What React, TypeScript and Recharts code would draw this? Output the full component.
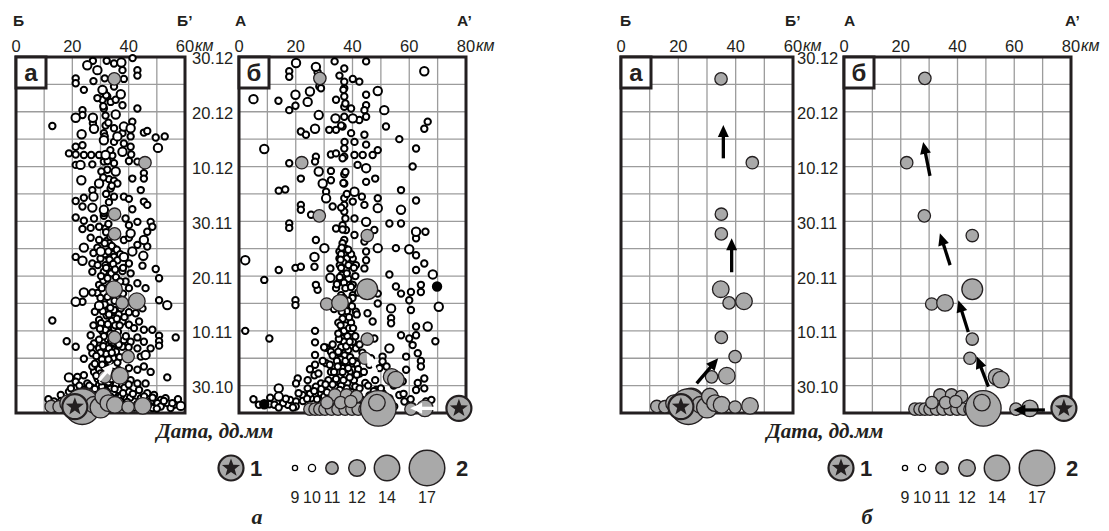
import React from 'react';
import { ScatterChart, Scatter, XAxis, YAxis, CartesianGrid, ReferenceArea, ReferenceLine } from 'recharts';

// ---- axes ----
const DAY_TICKS = [5, 15, 25, 35, 45, 55, 65];
const DAY_LABELS = ['30.10', '10.11', '20.11', '30.11', '10.12', '20.12', '30.12'];
const DAY_GRID = [0, 5, 10, 15, 20, 25, 30, 35, 40, 45, 50, 55, 60, 65];
const BB_TICKS = [0, 20, 40, 60];
const AA_TICKS = [0, 20, 40, 60, 80];
const BB_GRID = [0, 10, 20, 30, 40, 50, 60];
const AA_GRID = [0, 10, 20, 30, 40, 50, 60, 70, 80];
const LEGEND_CLASSES = [9, 10, 11, 12, 14, 17];

// ---- profile Б–Б' : [km, day since 25.10] ----
const bbC9 = [
  [27.3,64.3],[32.2,64.3],[34.8,63.8],[37.8,62.6],[41.4,64.8],[43.1,62.6],[43.1,61.6],[21.2,61.1],[21.2,60.2],[27.5,60.6],[31.5,61.1],[38.3,61.0],
  [24.1,59.0],[31.2,58.7],[32.4,57.8],[30.7,57.2],[33.6,56.8],[28.9,57.5],[34.8,59.6],[37.8,56.2],[35.4,57.2],[31.2,55.6],[23.6,55.3],[43.1,55.6],
  [23.6,54.4],[27.3,52.9],[31.8,54.3],[12.9,52.4],[31.8,52.5],[31.2,51.1],[34.8,52.0],[41.3,53.2],[37.8,51.1],[45.4,51.2],[46.6,51.5],[49.6,50.3],[52.8,50.5],[40.7,50.5],
  [21.2,48.6],[23.6,48.9],[18.8,47.4],[21.2,47.2],[24.1,47.1],[26.7,47.1],[29.5,47.1],[34.2,47.0],[34.8,49.5],[38.3,49.2],[40.7,48.6],[40.9,47.2],[40.1,46.0],[43.1,45.9],[21.2,45.3],[27.1,45.4],[31.2,45.9],[34.8,45.6],
  [32.4,44.4],[30.3,44.1],[33.0,42.7],[34.8,42.4],[41.3,42.8],[45.4,43.8],[45.4,42.8],[27.1,40.7],[33.6,41.0],[36.0,41.9],[44.3,40.7],
  [21.2,38.7],[24.1,39.3],[34.8,39.5],[38.3,39.5],[40.1,39.1],[45.4,38.6],[23.6,37.7],[41.3,37.2],[46.6,38.0],[21.2,35.7],[24.1,35.1],[27.7,35.5],[31.2,36.0],[38.9,35.5],
  [23.6,33.6],[26.5,33.8],[29.5,34.0],[31.8,33.7],[40.1,34.3],[43.1,34.9],[47.8,34.9],[48.4,34.0],[46.6,33.1],[26.5,32.0],[29.5,31.6],[32.2,31.4],[38.3,31.6],[40.1,32.0],[28.9,30.2],[33.0,31.0],[34.8,30.1],[43.1,30.7],[46.6,30.4],
  [21.2,28.5],[27.5,29.2],[32.4,28.8],[34.8,28.5],[27.1,27.3],[31.8,27.0],[33.6,27.6],[36.0,27.9],[40.1,27.3],[44.9,26.9],[49.6,26.3],[27.1,25.8],[31.2,25.8],[34.8,26.1],[37.8,25.9],[40.7,25.5],[50.8,24.6],
  [29.5,23.4],[31.8,23.7],[28.9,21.9],[27.1,22.0],[23.6,20.3],[38.9,24.0],[40.1,22.8],[43.1,23.7],[46.0,22.8],[33.6,21.7],[31.2,20.3],[50.8,20.6],[44.9,19.1],
  [12.9,16.9],[31.8,18.5],[34.8,18.8],[37.2,19.1],[40.1,18.4],[42.5,18.2],[34.8,17.3],[37.8,16.7],[29.5,17.0],[40.1,16.1],[43.7,16.7],[33.0,15.8],[26.5,14.2],[30.7,14.9],[34.8,15.5],[45.4,15.2],[48.4,15.2],[41.9,15.5],
  [18.0,13.1],[27.7,12.7],[31.2,13.0],[38.3,13.3],[40.7,13.0],[43.1,13.8],[45.4,13.0],[50.8,14.1],[50.8,13.1],[50.8,12.3],[56.7,13.8],[21.2,12.1],[29.5,11.8],[34.8,11.5],[37.8,12.1],[43.1,11.8],[47.8,11.8],[27.1,10.9],[32.4,10.6],[24.1,9.9],[44.3,10.3],[31.2,9.7],
  [21.8,6.6],[24.1,6.9],[27.7,7.5],[27.1,8.5],[40.1,8.2],[43.1,7.9],[45.4,8.5],[47.8,7.5],[53.7,6.5],[40.7,6.0],[43.1,5.4],[29.5,5.1],[25.3,5.4],[21.2,5.7],[32.4,5.4],[46.0,5.4],
  [13.5,2.1],[15.9,3.3],[18.8,3.9],[21.2,4.5],[24.1,4.2],[27.7,3.9],[30.7,4.2],[33.6,3.9],[36.6,4.2],[40.1,3.9],[43.7,4.2],[46.6,3.6],[49.0,3.3],[51.4,2.4],[53.7,1.8],[56.1,1.5],[53.1,2.7],[50.2,1.8],[47.8,2.1],[17.0,1.2],[20.0,2.7],[26.5,2.4],[30.1,2.7],[33.0,2.1],[36.0,3.0],[38.3,1.5],[41.9,2.1],[44.3,2.7],[26.5,0.9],[31.2,1.2],[34.8,0.9],[37.2,3.0],[51.4,1.2],[54.9,0.9],[48.4,0.9],
];
const bbDense = [
  [31.5,29.0],[33.2,28.0],[34.5,27.2],[32.0,26.5],[33.8,25.5],[35.5,24.8],[31.0,24.2],[33.0,23.0],[34.2,22.2],[32.5,21.2],[35.8,21.0],[31.5,19.8],[33.5,19.2],[36.5,18.0],[32.2,17.8],[34.0,16.8],[35.2,16.0],[31.8,15.2],[33.5,14.5],[36.2,14.8],[32.5,13.5],[34.0,12.8],[31.0,12.2],[33.0,11.8],[35.5,11.2],[32.0,10.8],[34.5,10.0],[30.5,9.8],[33.5,9.2],[35.0,8.6],[31.5,8.4],[29.5,8.0],[33.0,7.6],[34.8,6.8],[31.8,6.4],[29.0,6.2],[32.8,5.6],[35.5,5.2],[30.5,4.8],[27.0,4.6],[33.5,4.4],[38.5,4.6],[25.5,3.6],[28.5,3.2],[31.0,3.4],[34.5,3.6],[37.0,2.2],[40.5,2.8],[23.0,2.6],[26.0,1.6],[29.0,2.0],[32.0,1.0],[35.0,2.6],[38.0,1.2],[42.0,1.0],[44.8,2.0],[47.0,1.5],[50.0,0.8],[52.5,2.2],[55.5,1.8],[19.0,1.2],[16.0,2.2],[22.0,3.8],
  [32.0,33.0],[33.5,32.2],[31.5,31.0],[34.0,30.5],[32.8,34.5],[31.2,36.5],[33.0,38.5],[32.0,40.0],[34.0,41.5],[31.0,43.0],[32.5,46.0],[33.5,48.0],[31.5,50.5],[32.8,53.0],[31.0,56.0],[32.0,58.0],
  [30.0,28.2],[32.8,29.5],[35.8,29.8],[29.0,27.0],[35.2,26.2],[30.2,25.0],[32.5,24.6],[36.5,23.8],[30.5,22.8],[35.0,20.5],[30.0,21.0],[36.8,19.8],[30.8,18.6],[33.0,18.0],[35.8,17.2],[30.2,16.4],[32.6,16.2],[36.8,16.0],[29.8,15.4],[35.5,14.0],[31.2,14.0],[29.5,13.4],[33.8,13.2],[36.5,12.5],[30.0,11.0],[34.0,11.0],[36.8,10.2],[28.5,10.4],[32.8,9.8],[36.0,9.2],[28.0,9.0],[30.6,8.8],[32.2,8.0],[36.5,7.8],[30.0,7.2],[28.5,6.8],[33.8,6.2],[37.5,6.5],[30.2,5.8],[35.0,4.4],[26.0,5.0],[28.0,4.4],[32.0,4.0],[38.0,3.6],[40.0,5.2],[22.5,5.0],[19.5,4.5],[24.0,3.0],[27.0,3.0],[30.5,1.8],[33.5,3.0],[36.5,1.2],[39.5,2.0],[41.5,3.5],[43.0,1.6],[45.5,3.0],[48.5,2.8],[14.5,1.0],[11.5,2.5],[57.5,2.5],[40.0,12.0],[39.0,14.0],[38.5,17.5],[38.0,21.8],[37.0,24.0],[28.0,18.5],[27.5,16.0],[26.5,12.0],[38.0,26.5],[37.0,29.0],
];
const bbC10 = [
  [25.3,63.5],[28.9,62.6],[37.4,64.0],[30.7,59.0],[37.2,58.2],[21.2,53.9],[27.3,53.9],[35.4,54.5],[27.7,51.9],[36.0,50.5],[38.3,52.3],[40.7,52.0],[23.3,50.9],[31.8,47.1],[31.2,49.8],[37.8,47.7],[50.4,48.4],[22.9,45.3],[35.4,44.1],[23.2,42.5],[29.5,41.9],[27.5,39.5],[27.1,37.5],[31.2,37.1],[40.7,32.8],[45.4,31.6],[24.1,30.2],[23.6,27.8],[30.1,29.5],[38.3,28.5],[41.3,29.5],[45.2,28.7],[24.1,22.0],[21.2,20.3],[29.5,19.6],[53.7,19.7],[46.0,10.6],[18.8,6.5],[58.5,1.3],
];
// [km, day, energy class]
const bbLarge = [
  [34.9,61.0,11],[45.8,45.7,11],[35.0,36.3,11],[35.0,32.7,11],[34.8,22.6,12],[37.7,20.1,11],[42.9,20.4,12],[35.0,13.8,11],[39.8,10.3,11],[36.9,6.8,12],[31.6,6.6,11],
  [12.5,1.2,11],[15.3,1.15,11],[18.5,1.8,12],[24.5,2.2,14],[23.5,1.15,17],[27.6,1.5,12],[30.0,1.0,13],[31.0,3.0,12],[32.8,1.8,12],[35.1,1.5,12],[39.8,1.1,11],[45.0,1.3,12],
];
const bbStar = [[20.9, 1.15]];

// ---- profile А–А' ----
const aaC9 = [
  [17.7,62.4],[17.7,61.4],[27.7,62.2],[33.7,64.2],[37.1,62.9],[35.4,61.6],[40.1,61.0],[42.4,60.5],[44.8,64.2],[37.1,60.5],[28.3,59.6],
  [13.9,57.0],[28.9,59.3],[17.7,55.3],[19.9,56.1],[37.1,59.3],[37.1,57.8],[37.1,55.9],[34.2,57.2],[44.8,58.1],[44.8,56.2],[44.2,55.3],[39.5,55.6],
  [37.1,54.1],[44.8,54.1],[42.4,53.5],[21.8,51.4],[23.6,50.8],[31.8,51.7],[34.2,51.7],[36.5,52.3],[39.5,51.1],[44.2,50.8],[51.8,52.3],[66.5,53.2],[65.3,51.9],[56.5,50.0],
  [27.1,46.8],[26.8,45.9],[17.7,45.6],[32.4,47.2],[34.2,47.4],[37.1,46.8],[37.1,48.3],[40.7,49.5],[40.7,47.1],[43.6,47.1],[47.1,47.1],[48.9,48.0],[44.8,49.0],[62.4,48.3],[61.2,45.0],[41.8,45.3],
  [32.4,44.2],[32.4,42.5],[37.1,43.6],[37.1,41.9],[21.8,42.8],[44.8,42.2],[48.0,42.8],[14.0,40.6],[16.3,40.8],[30.7,40.4],[57.1,40.7],[62.4,38.8],
  [21.8,38.0],[21.8,37.1],[33.0,37.7],[37.1,39.2],[37.1,38.0],[37.1,36.8],[40.1,38.6],[43.3,39.5],[44.2,38.0],[48.9,39.2],[25.4,36.2],[40.7,35.5],
  [17.7,34.6],[17.7,33.8],[34.2,33.7],[36.5,34.3],[37.7,33.4],[47.7,33.4],[53.0,34.6],[57.1,34.6],[62.4,31.9],[65.7,33.1],[37.1,31.6],[40.7,32.5],[44.2,31.3],[27.1,31.6],
  [35.4,29.5],[35.4,28.2],[37.1,28.8],[37.1,27.3],[37.1,26.1],[40.1,28.2],[41.2,27.0],[44.8,27.9],[44.8,29.5],[55.3,30.1],[62.4,28.8],[14.0,26.1],[19.9,26.5],[21.8,26.7],[26.6,26.7],[32.2,26.4],[44.2,26.4],[53.0,25.3],[62.4,26.1],[65.3,27.3],
  [8.9,24.3],[35.4,24.0],[37.1,24.9],[40.1,23.4],[27.7,22.5],[27.1,23.4],[34.2,22.8],[40.1,21.5],[48.9,21.8],[55.3,23.1],[57.1,21.8],[60.6,22.1],[64.1,22.1],[64.1,23.4],[19.9,20.6],[19.9,19.7],[48.9,20.0],[60.0,20.6],
  [36.5,19.1],[37.7,17.9],[41.2,18.5],[45.3,18.2],[47.1,16.7],[53.6,17.3],[53.6,16.4],[60.6,18.8],[62.4,15.8],[2.2,15.0],[26.8,15.0],[36.5,15.2],[39.5,14.9],
  [10.7,13.6],[26.8,12.9],[30.7,11.9],[32.4,11.2],[36.5,13.6],[36.5,12.1],[40.1,13.0],[41.2,11.8],[47.7,13.6],[57.1,14.2],[60.0,13.6],[62.4,14.2],[61.2,12.4],[69.2,13.1],[26.8,10.6],[35.4,10.9],[50.6,10.3],[58.9,10.3],[63.0,10.9],
  [20.7,6.3],[24.2,6.0],[26.8,8.8],[30.7,9.1],[32.4,7.5],[26.6,6.9],[36.5,8.5],[37.7,6.9],[40.1,7.9],[41.2,9.4],[49.5,8.2],[50.6,9.4],[64.1,9.5],[64.1,8.5],[65.3,6.3],[58.9,7.9],[57.7,5.8],[20.1,5.4],[28.9,5.4],[33.6,5.4],
  [5.1,2.5],[10.7,1.6],[17.2,1.5],[20.1,2.1],[22.4,3.3],[25.4,2.7],[28.9,3.6],[30.7,2.1],[34.2,4.2],[37.7,3.3],[41.2,3.9],[48.3,4.2],[50.6,3.6],[53.0,2.7],[56.5,3.3],[58.3,2.1],[62.4,4.2],[65.3,4.5],[65.9,2.1],[67.8,2.4],[61.2,1.2],[54.7,1.2],[24.2,4.5],[27.1,4.8],
];
const aaDense = [
  [36.5,31.0],[37.5,30.0],[36.0,29.0],[38.0,28.2],[36.8,27.5],[37.8,26.2],[36.2,25.2],[38.5,24.5],[37.0,23.8],[36.0,21.5],[37.2,19.5],[38.0,18.6],[36.5,17.2],[37.5,16.0],[36.2,14.8],[38.2,14.0],[37.0,13.0],[36.0,12.0],[38.5,11.5],[37.2,10.5],[35.8,9.8],[38.0,9.0],[36.5,8.2],[39.0,7.5],[37.5,7.0],[35.5,6.5],[40.5,6.0],[38.2,5.5],[36.0,5.0],[34.0,4.6],[41.0,4.8],[39.5,3.8],[37.0,3.5],[35.0,3.0],[32.5,3.4],[30.0,3.0],[27.5,2.5],[25.0,3.5],[22.5,2.2],[20.0,1.2],[18.0,2.4],[15.5,1.8],[12.5,1.5],[43.0,2.5],[46.0,3.2],[44.5,5.5],[42.5,7.2],[41.5,9.0],[43.5,11.0],[42.0,8.0],[33.5,7.5],[31.5,6.0],[34.5,9.5],[33.0,12.5],[39.5,16.5],[41.0,14.0],[35.0,16.5],[33.5,19.0],[40.0,21.0],[34.5,23.5],[41.0,25.0],[35.5,27.0],[39.5,29.0],
  [36.5,33.5],[37.5,35.5],[36.0,37.5],[38.0,40.0],[36.8,42.0],[37.5,44.0],[36.5,46.5],[37.2,49.5],[36.0,52.5],[37.5,56.5],[36.8,59.0],[52.0,8.5],[54.5,5.0],[58.0,3.5],[60.5,2.5],[63.0,5.5],[48.0,6.0],[50.0,4.5],[46.0,8.8],[28.0,7.2],[29.5,9.5],[30.0,12.0],[25.0,8.0],
  [36.2,30.2],[38.5,29.8],[35.8,28.0],[38.6,27.0],[36.0,26.5],[38.0,25.5],[35.5,24.8],[37.5,22.8],[36.8,21.0],[38.5,20.5],[35.5,19.8],[36.2,18.5],[38.8,17.5],[35.8,16.0],[37.0,15.0],[38.8,15.5],[35.2,13.5],[37.8,12.2],[39.0,13.0],[35.0,11.2],[37.5,9.5],[39.2,10.2],[34.8,8.5],[36.5,7.5],[38.5,8.2],[40.0,9.5],[34.2,6.2],[36.8,6.0],[39.0,6.5],[41.5,7.0],[33.0,5.2],[35.5,4.2],[38.0,4.5],[40.5,3.2],[42.5,4.5],[36.0,2.2],[33.5,2.0],[31.0,3.8],[29.0,4.4],[26.5,4.0],[24.0,2.6],[21.0,3.6],[19.0,1.0],[16.5,2.6],[14.0,1.0],[11.0,2.8],[7.0,1.5],[44.0,7.5],[45.5,5.0],[47.5,4.0],[49.0,2.8],[51.5,2.2],[46.5,10.0],[42.5,12.5],[40.2,15.5],[41.5,18.0],[39.8,19.5],[42.0,22.0],[39.5,23.0],[40.5,26.5],[33.0,10.5],[32.0,8.8],[30.5,5.2],[35.0,14.5],
];
const aaC10 = [
  [20.1,63.9],[27.1,63.2],[65.3,62.4],[5.1,57.3],[19.9,58.1],[25.0,58.7],[24.2,56.8],[48.9,58.8],[51.2,55.3],[28.1,54.4],[34.0,53.8],[40.1,53.8],[26.8,51.9],[8.9,48.2],[44.8,44.7],[28.1,44.1],[29.5,41.9],[40.7,40.4],[30.7,39.2],[48.9,37.4],[57.1,37.1],[44.8,34.9],[62.4,33.1],[2.2,27.9],[26.6,28.5],[30.1,30.1],[48.9,30.1],[60.0,29.9],[68.3,25.3],[32.2,24.7],[70.4,19.4],[53.6,19.1],[66.5,15.8],[53.0,11.8],[14.0,4.5],[14.0,3.0],
];
const aaBlack = [[69.8, 23.1], [8.9, 1.6]];
const aaLarge = [
  [28.5,61.1,11],[22.1,45.7,11],[28.3,36.0,11],[45.2,32.4,11],[45.2,22.6,13],[30.9,19.9,11],[35.6,20.1,12],[45.2,13.5,11],[44.4,10.0,11],[53.8,6.6,12],[55.3,6.1,12],
  [25.0,0.7,11],[26.8,0.7,11],[28.5,0.7,11],[30.3,0.7,11],[32.6,0.7,11],[34.9,0.7,11],[37.4,0.7,11],[39.8,0.7,11],[42.0,0.7,11],[44.4,0.7,11],
  [33.8,3.3,11],[37.9,3.3,11],[41.4,3.0,11],[31.0,1.9,11],[35.8,1.9,11],[39.4,2.1,11],[49.1,0.85,17],[48.6,1.9,12],[60.6,0.7,11],[65.5,0.85,12],
];
const aaStar = [[77.5, 0.85]];

// ---- migration arrows [km1, day1, km2, day2] ----
const bbArrowsAll = [[29.5, 6.0, 34.8, 9.1]];
const aaArrowsAll = [[48.5, 7.5, 45.0, 10.9], [69.7, 0.85, 60.3, 0.85]];
const bbArrowsLarge = [[26.4, 5.4, 33.9, 10.0], [38.6, 25.7, 38.6, 31.9], [35.7, 46.5, 35.7, 52.6]];
const aaArrowsLarge = [[70.8, 0.55, 59.7, 0.55], [50.9, 4.8, 46.8, 10.3], [43.8, 14.8, 40.3, 20.6], [37.4, 27.0, 33.8, 32.8], [30.3, 43.3, 27.9, 49.5]];

const RADIUS: Record<number, number> = { 9: 3.2, 10: 4.2, 11: 6.2, 12: 8.3, 13: 10.4, 14: 12.7, 17: 17.8 };
const LEGEND_RADIUS: Record<number, number> = { 9: 2.6, 10: 3.6, 11: 6.2, 12: 8.3, 14: 12.7, 17: 17.8 };
const GRAY = '#a9a9a9';
const INK = '#231f20';
const SANS = '"Liberation Sans", Arial, sans-serif';
const SERIF = '"Liberation Serif", "Times New Roman", serif';

const toPts = (arr: number[][], mag?: number, black?: boolean) =>
  arr.map((p) => ({ x: p[0], y: p[1], mag: mag ?? p[2], black: !!black }));

const Bubble = (props: any) => {
  const { cx, cy, payload } = props;
  if (cx == null || cy == null) return null;
  const m = payload.mag;
  const r = RADIUS[m] ?? 3;
  const open = m < 11;
  return (
    <circle cx={cx} cy={cy} r={r}
      fill={payload.black ? '#000' : open ? '#fff' : GRAY}
      stroke={open ? '#000' : INK} strokeWidth={open ? 2 : 1.3} />
  );
};

const starPoints = (cx: number, cy: number, R: number, r: number) => {
  const pts: string[] = [];
  for (let i = 0; i < 10; i++) {
    const a = -Math.PI / 2 + (i * Math.PI) / 5;
    const rr = i % 2 === 0 ? R : r;
    pts.push(`${cx + rr * Math.cos(a)},${cy + rr * Math.sin(a)}`);
  }
  return pts.join(' ');
};

const StarSymbol = ({ cx, cy }: { cx: number; cy: number }) => (
  <g>
    <circle cx={cx} cy={cy} r={12.5} fill={GRAY} stroke={INK} strokeWidth={2.2} />
    <polygon points={starPoints(cx, cy, 9.5, 3.9)} fill={INK} />
  </g>
);

const StarShape = (props: any) => (props.cx == null ? null : <StarSymbol cx={props.cx} cy={props.cy} />);

const Arrow = (p: any) => {
  const { x1, y1, x2, y2, color } = p;
  if ([x1, y1, x2, y2].some((v) => v == null || isNaN(v))) return null;
  const dx = x2 - x1, dy = y2 - y1;
  const len = Math.hypot(dx, dy) || 1;
  const ux = dx / len, uy = dy / len;
  const L = 12, W = 5.5;
  const bx = x2 - ux * L, by = y2 - uy * L;
  return (
    <g>
      <line x1={x1} y1={y1} x2={bx + ux * 1} y2={by + uy * 1} stroke={color} strokeWidth={3.3} />
      <polygon points={`${x2},${y2} ${bx - uy * W},${by + ux * W} ${bx + uy * W},${by - ux * W}`} fill={color} />
    </g>
  );
};

type PanelProps = {
  frameLeft: number; frameW: number; xMax: number; xTicks: number[]; xGrid: number[];
  small: any[]; large: any[]; star: any[]; arrows: number[][]; arrowColor: string;
  dates: boolean; dateGap: number;
};

function Panel(props: PanelProps) {
  const { frameLeft, frameW, xMax, xTicks, xGrid, small, large, star, arrows, arrowColor, dates, dateGap } = props;
  const ML = 20, MR = 20, YW = 60;
  const width = ML + frameW + (dates ? YW : 0) + MR;
  const height = 440;
  const XTick = (p: any) => {
    const { x, y, payload } = p;
    const v = payload.value;
    return (
      <g>
        <text x={x} y={y - 1} textAnchor="middle" fontSize={16.5} fontFamily={SANS} fill={INK}>{v}</text>
        {v === xMax && (
          <text x={x + 10} y={y - 2} textAnchor="start" fontSize={16} fontStyle="italic" fontFamily={SANS} fill={INK}>км</text>
        )}
      </g>
    );
  };
  const YTick = (p: any) => {
    const { x, y, payload } = p;
    const idx = DAY_TICKS.indexOf(payload.value);
    return (
      <text x={x} y={y} dy="0.45em" textAnchor="start" fontSize={16.5} fontFamily={SANS} fill={INK}>
        {DAY_LABELS[idx]}
      </text>
    );
  };
  return (
    <div style={{ position: 'absolute', left: frameLeft - ML, top: 0 }}>
      <ScatterChart width={width} height={height} margin={{ top: 27, left: ML, right: MR, bottom: 27 }}>
        <CartesianGrid stroke="#9c9c9c" strokeWidth={1.3} verticalValues={xGrid} horizontalValues={DAY_GRID} />
        <XAxis type="number" dataKey="x" orientation="top" height={30} domain={[0, xMax]} ticks={xTicks}
          interval={0} axisLine={false} tickLine={false} tickSize={0} tickMargin={4} tick={XTick} />
        <YAxis type="number" dataKey="y" orientation="right" width={YW} domain={[0, 65]} ticks={DAY_TICKS}
          interval={0} axisLine={false} tickLine={false} tickSize={0} tickMargin={dateGap} tick={YTick} hide={!dates} />
        <ReferenceArea x1={0} x2={xMax} y1={0} y2={65} fill="none" fillOpacity={0} stroke={INK} strokeWidth={3} ifOverflow="visible" />
        {small.map((s, i) => (
          <Scatter key={'s' + i} data={s} shape={Bubble} isAnimationActive={false} />
        ))}
        <Scatter data={large} shape={Bubble} isAnimationActive={false} />
        <Scatter data={star} shape={StarShape} isAnimationActive={false} />
        {arrows.map((a, i) => (
          <ReferenceLine key={'a' + i} segment={[{ x: a[0], y: a[1] }, { x: a[2], y: a[3] }]} ifOverflow="visible"
            zIndex={2000} shape={(p: any) => <Arrow {...p} color={arrowColor} />} />
        ))}
      </ScatterChart>
    </div>
  );
}

function Overlay() {
  const headers = [
    { t: 'Б', x: 13 }, { t: 'Б’', x: 177 }, { t: 'А', x: 235 }, { t: 'А’', x: 457 },
    { t: 'Б', x: 620 }, { t: 'Б’', x: 785 }, { t: 'А', x: 844 }, { t: 'А’', x: 1065 },
  ];
  const boxes = [
    { t: 'а', x: 16 }, { t: 'б', x: 239 }, { t: 'а', x: 621 }, { t: 'б', x: 844 },
  ];
  const legendX = [295, 312, 332, 357, 387, 427];
  const halves = [{ off: 0, cap: 'а' }, { off: 610, cap: 'б' }];
  return (
    <svg width={1109} height={531} style={{ position: 'absolute', left: 0, top: 0, pointerEvents: 'none' }}>
      {headers.map((h, i) => (
        <text key={i} x={h.x} y={26} fontSize={15.5} fontWeight="bold" fontFamily={SANS} fill={INK}>{h.t}</text>
      ))}
      {boxes.map((b, i) => (
        <g key={i}>
          <rect x={b.x} y={57} width={30} height={31} fill="#fff" stroke={INK} strokeWidth={3} />
          <text x={b.x + 15} y={81} textAnchor="middle" fontSize={24} fontWeight="bold" fontFamily={SANS} fill={INK}>{b.t}</text>
        </g>
      ))}
      {halves.map((h, i) => (
        <g key={i}>
          <text x={215 + h.off} y={438} textAnchor="middle" fontSize={21} fontWeight="bold" fontStyle="italic" fontFamily={SERIF} fill={INK}>Дата, дд.мм</text>
          <StarSymbol cx={231 + h.off} cy={468} />
          <text x={250 + h.off} y={476} fontSize={22} fontWeight="bold" fontFamily={SANS} fill={INK}>1</text>
          {LEGEND_CLASSES.map((m, k) => (
            <g key={k}>
              <circle cx={legendX[k] + h.off} cy={468} r={LEGEND_RADIUS[m]} fill={m < 11 ? '#fff' : GRAY} stroke={m < 11 ? '#000' : INK} strokeWidth={m < 11 ? 1.3 : 1.5} />
              <text x={legendX[k] + h.off} y={503} textAnchor="middle" fontSize={16} fontFamily={SANS} fill={INK}>{m}</text>
            </g>
          ))}
          <text x={456 + h.off} y={476} fontSize={22} fontWeight="bold" fontFamily={SANS} fill={INK}>2</text>
          <text x={257 + h.off} y={524} textAnchor="middle" fontSize={22} fontWeight="bold" fontStyle="italic" fontFamily={SERIF} fill={INK}>{h.cap}</text>
        </g>
      ))}
    </svg>
  );
}

export default function App() {
  const bbSmall = [toPts(bbC9, 9), toPts(bbDense, 9), toPts(bbC10, 10)];
  const aaSmall = [toPts(aaC9, 9), toPts(aaDense, 9), toPts(aaC10, 10), toPts(aaBlack, 10, true)];
  const bbL = toPts(bbLarge);
  const aaL = toPts(aaLarge);
  return (
    <div style={{ position: 'absolute', left: 0, top: 0, width: 1109, height: 531, background: '#fff', overflow: 'hidden' }}>
      <style>{'.recharts-surface{overflow:visible}'}</style>
      <Panel frameLeft={16} frameW={169} xMax={60} xTicks={BB_TICKS} xGrid={BB_GRID} small={bbSmall} large={bbL}
        star={toPts(bbStar, 0)} arrows={bbArrowsAll} arrowColor="#fff" dates dateGap={7} />
      <Panel frameLeft={239} frameW={227} xMax={80} xTicks={AA_TICKS} xGrid={AA_GRID} small={aaSmall} large={aaL}
        star={toPts(aaStar, 0)} arrows={aaArrowsAll} arrowColor="#fff" dates={false} dateGap={0} />
      <Panel frameLeft={621} frameW={172} xMax={60} xTicks={BB_TICKS} xGrid={BB_GRID} small={[]} large={bbL}
        star={toPts(bbStar, 0)} arrows={bbArrowsLarge} arrowColor="#000" dates dateGap={4} />
      <Panel frameLeft={844} frameW={227} xMax={80} xTicks={AA_TICKS} xGrid={AA_GRID} small={[]} large={aaL}
        star={toPts(aaStar, 0)} arrows={aaArrowsLarge} arrowColor="#000" dates={false} dateGap={0} />
      <Overlay />
    </div>
  );
}
